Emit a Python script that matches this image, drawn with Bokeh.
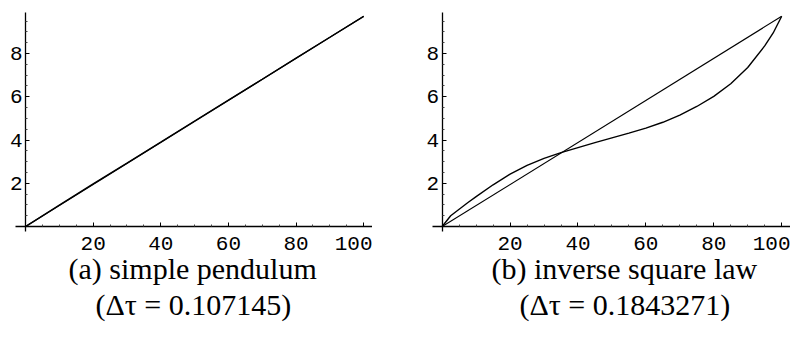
from bokeh.plotting import figure
from bokeh.models import LinearAxis, FixedTicker, Range1d, Title
from bokeh.layouts import row
from bokeh.embed import file_html
from bokeh.resources import INLINE

# ---- data ----
pend_x = [0, 10, 20, 30, 40, 50, 60, 70, 80, 90, 100]
pend_y = [0, 0.99, 1.97, 2.93, 3.90, 4.88, 5.84, 6.81, 7.79, 8.75, 9.72]
line_x = [0, 100]
line_y = [0, 9.72]

inv_x = [0, 2.5, 5, 7.5, 10, 15, 20, 25, 30, 35, 40, 45, 50, 55, 60, 65, 70,
         75, 80, 85, 90, 95, 97.5, 100]
inv_y = [0, 0.5, 0.8, 1.1, 1.38, 1.93, 2.42, 2.83, 3.15, 3.42, 3.65, 3.88,
         4.1, 4.32, 4.55, 4.82, 5.15, 5.55, 6.02, 6.6, 7.35, 8.35, 8.95, 9.72]

x_major = [20, 40, 60, 80, 100]
x_minor = [5, 10, 15, 25, 30, 35, 45, 50, 55, 65, 70, 75, 85, 90, 95]
y_major = [2, 4, 6, 8]
y_minor = [0.5, 1, 1.5, 2.5, 3, 3.5, 4.5, 5, 5.5, 6.5, 7, 7.5, 8.5, 9, 9.5]

captions_a = ["(a) simple pendulum", "(\u0394\u03c4 = 0.107145)"]
captions_b = ["(b) inverse square law", "(\u0394\u03c4 = 0.1843271)"]

SERIF = "Liberation Serif"
MONO = "Liberation Mono"


def make_panel(curves, captions, fw, x_start, bl, offs):
    p = figure(frame_width=fw, frame_height=244,
               x_range=Range1d(x_start, 102.6), y_range=Range1d(-1.2, 10.08),
               output_backend="svg", toolbar_location=None,
               x_axis_location=None, y_axis_location=None,
               min_border_left=bl, min_border_right=0,
               min_border_top=8, min_border_bottom=0)
    p.outline_line_color = None
    p.xgrid.visible = False
    p.ygrid.visible = False
    p.background_fill_color = "white"
    p.border_fill_color = "white"

    xa = LinearAxis(fixed_location=0, bounds=(-2.95, 102.6),
                    ticker=FixedTicker(ticks=x_major, minor_ticks=x_minor))
    ya = LinearAxis(fixed_location=0, bounds=(-0.23, 9.89),
                    ticker=FixedTicker(ticks=y_major, minor_ticks=y_minor))
    for ax in (xa, ya):
        ax.axis_line_color = "black"
        ax.axis_line_width = 1.3
        ax.major_tick_in = 4
        ax.major_tick_out = 0
        ax.minor_tick_in = 2
        ax.minor_tick_out = 0
        ax.major_tick_line_color = "black"
        ax.minor_tick_line_color = "#444444"
        ax.major_label_text_font = MONO
        ax.major_label_text_font_size = "21px"
        ax.major_label_text_color = "black"
    xa.major_label_standoff = 10
    ya.major_label_standoff = 3
    p.add_layout(xa, "below")
    p.add_layout(ya, "left")

    for cx, cy, w in curves:
        p.line(cx, cy, line_color="black", line_width=w)

    t1 = Title(text=captions[0], align="left", text_font=SERIF,
               text_font_size="30px", text_font_style="normal",
               text_line_height=1.0,
               text_color="black", standoff=-6, offset=offs[0])
    t2 = Title(text=captions[1], align="left", text_font=SERIF,
               text_font_size="30px", text_font_style="normal",
               text_line_height=1.0,
               text_color="black", standoff=9, offset=offs[1])
    p.add_layout(t1, "below")
    p.add_layout(t2, "below")
    return p


pa = make_panel([(line_x, line_y, 1.2), (pend_x, pend_y, 1.4)], captions_a,
                364, -5.03, 8, (60, 87))
pb = make_panel([(line_x, line_y, 1.1), (inv_x, inv_y, 1.4)], captions_b,
                368, -5.8, 0, (69, 97))

layout = row(pa, pb, spacing=50)
open("out.html", "w").write(file_html(layout, INLINE))
